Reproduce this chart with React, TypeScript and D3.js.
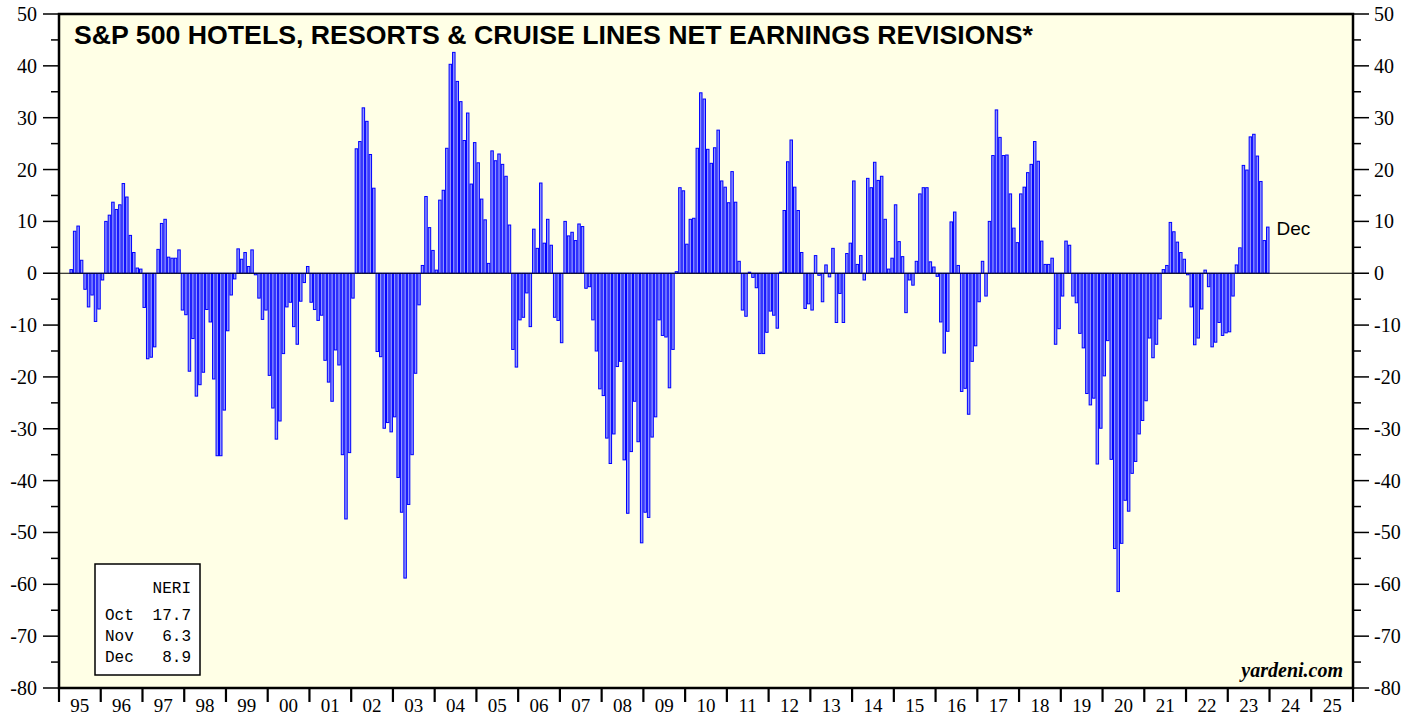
import React, { useEffect, useRef } from 'react'
import * as d3 from 'd3'

// NERI, monthly Jan..Dec (null = no data yet)
const y1995 = [null, null, null, 0.7, 8.1, 9.1, 2.5, -3.1, -6.5, -4.2, -9.3, -6.9]
const y1996 = [-1.3, 10.0, 11.2, 13.7, 12.3, 13.2, 17.3, 14.7, 7.3, 4.0, 1.0, 0.8]
const y1997 = [-6.6, -16.5, -16.2, -14.2, 4.6, 9.6, 10.4, 3.1, 2.9, 2.9, 4.5, -7.1]
const y1998 = [-8.0, -18.9, -12.6, -23.7, -21.5, -19.1, -7.0, -9.4, -20.4, -35.2, -35.2, -26.4]
const y1999 = [-11.1, -4.2, -1.1, 4.7, 2.7, 4.0, 1.3, 4.5, -0.3, -4.8, -8.9, -7.1]
const y2000 = [-19.7, -26.0, -32.0, -28.5, -15.5, -6.5, -5.6, -10.3, -13.7, -5.4, -1.8, 1.3]
const y2001 = [-5.6, -7.0, -9.1, -8.1, -16.8, -21.0, -24.7, -14.8, -17.7, -35.0, -47.4, -34.6]
const y2002 = [-4.8, 24.0, 25.4, 31.9, 29.3, 22.9, 16.4, -15.1, -16.1, -29.9, -28.8, -30.6]
const y2003 = [-27.7, -39.4, -46.1, -58.8, -44.6, -35.0, -19.3, -6.1, 1.5, 14.8, 8.8, 4.4]
const y2004 = [0.6, 14.1, 16.0, 24.1, 40.3, 42.6, 37.0, 33.1, 25.6, 30.9, 17.2, 25.2]
const y2005 = [21.3, 14.3, 10.3, 1.9, 23.6, 21.7, 23.0, 21.0, 18.7, 9.3, -14.7, -18.1]
const y2006 = [-9.0, -8.5, -3.8, -10.3, 8.5, 4.8, 17.4, 5.8, 10.4, 5.4, -8.5, -9.1]
const y2007 = [-13.4, 10.0, 7.2, 7.9, 6.3, 9.5, 9.0, -2.9, -2.6, -9.0, -15.0, -22.3]
const y2008 = [-23.6, -31.8, -36.7, -31.0, -18.0, -17.0, -36.0, -46.3, -34.4, -24.7, -32.5, -52.0]
const y2009 = [-46.1, -47.1, -31.6, -27.7, -9.0, -12.0, -12.3, -22.1, -14.7, 0.3, 16.5, 15.9]
const y2010 = [5.6, 10.4, 10.6, 24.1, 34.8, 33.6, 23.9, 21.2, 24.2, 27.6, 17.8, 16.6]
const y2011 = [13.6, 19.6, 13.7, 2.3, -7.1, -8.3, 0.2, -0.8, -2.8, -15.5, -15.5, -11.4]
const y2012 = [-7.3, -8.1, -10.6, 0.2, 12.1, 21.5, 25.7, 16.6, 12.1, 4.0, -6.8, -5.9]
const y2013 = [-7.1, 3.4, -0.4, -5.5, 1.6, -0.7, 4.8, -9.5, -3.9, -9.5, 3.8, 5.8]
const y2014 = [17.8, 1.7, 3.4, -1.3, 18.3, 16.5, 21.4, 17.9, 18.7, 10.4, 0.8, 2.9]
const y2015 = [13.2, 6.1, 3.2, -7.6, -1.3, -2.3, 2.3, 15.3, 16.5, 16.5, 2.2, 1.2]
const y2016 = [-0.6, -9.4, -15.4, -11.2, 9.9, 11.8, 1.5, -22.8, -22.2, -27.2, -17.0, -14.0]
const y2017 = [-5.5, 2.3, -4.4, 10.0, 22.7, 31.5, 26.2, 22.7, 22.8, 15.3, 8.7, 5.9]
const y2018 = [15.3, 16.6, 19.4, 21.0, 25.4, 21.6, 6.2, 1.7, 1.7, 2.9, -13.7, -10.7]
const y2019 = [-4.4, 6.2, 5.4, -4.4, -5.7, -11.6, -14.4, -23.2, -25.4, -24.1, -36.8, -29.9]
const y2020 = [-19.8, -13.0, -35.9, -53.1, -61.4, -52.1, -43.8, -45.9, -38.6, -36.3, -31.0, -28.4]
const y2021 = [-24.6, -12.5, -16.3, -13.7, -8.8, 0.7, 1.5, 9.8, 8.0, 6.0, 4.0, 2.7]
const y2022 = [-0.3, -6.5, -13.8, -12.5, -6.9, 0.6, -2.6, -14.2, -13.3, -9.5, -12.0, -11.5]
const y2023 = [-11.3, -4.4, 1.6, 4.9, 20.8, 19.9, 26.3, 26.8, 22.6, 17.7, 6.3, 8.9]

const years = [y1995, y1996, y1997, y1998, y1999, y2000, y2001, y2002, y2003, y2004,
  y2005, y2006, y2007, y2008, y2009, y2010, y2011, y2012, y2013, y2014,
  y2015, y2016, y2017, y2018, y2019, y2020, y2021, y2022, y2023]

const yearLabels = ['95', '96', '97', '98', '99', '00', '01', '02', '03', '04', '05', '06',
  '07', '08', '09', '10', '11', '12', '13', '14', '15', '16', '17', '18', '19', '20',
  '21', '22', '23', '24', '25']

const legendMonths = ['Oct', 'Nov', 'Dec']
const legendValues = ['17.7', '6.3', '8.9']

const W = 1421
const H = 717
const serif = '"Liberation Serif", "Times New Roman", serif'
const sans = '"Liberation Sans", Arial, sans-serif'
const mono = '"Liberation Mono", "Courier New", monospace'

function App() {
  const ref = useRef<SVGSVGElement>(null)

  useEffect(() => {
    const svg = d3.select(ref.current)
    svg.selectAll('*').remove()

    const left = 59
    const right = 1353
    const top = 14
    const bottom = 688

    const data = years
      .flatMap((arr, yi) => arr.map((v, m) => ({ i: yi * 12 + m, v })))
      .filter(d => d.v !== null) as { i: number, v: number }[]

    const x = d3.scaleLinear().domain([0, yearLabels.length * 12]).range([left, right])
    const y = d3.scaleLinear().domain([-80, 50]).range([bottom, top])
    const step = x(1) - x(0)

    svg.append('rect')
      .attr('width', W).attr('height', H).attr('fill', '#ffffff')

    svg.append('rect')
      .attr('x', left).attr('y', top)
      .attr('width', right - left).attr('height', bottom - top)
      .attr('fill', '#ffffe6')

    // bars
    svg.append('g')
      .selectAll('rect')
      .data(data)
      .enter()
      .append('rect')
      .attr('x', d => x(d.i) + 0.5)
      .attr('width', step - 1)
      .attr('y', d => y(Math.max(0, d.v)))
      .attr('height', d => Math.abs(y(d.v) - y(0)))
      .attr('fill', '#8f94ff')
      .attr('stroke', '#0000ff')
      .attr('stroke-width', 1)

    // zero line
    svg.append('line')
      .attr('x1', left).attr('x2', right)
      .attr('y1', y(0)).attr('y2', y(0))
      .attr('stroke', '#000').attr('stroke-width', 1.2)

    // y axes, both sides
    const majors = d3.range(-80, 51, 10)
    const minors = d3.range(-75, 50, 10)
    const axisG = svg.append('g').attr('stroke', '#000')
    majors.forEach(v => {
      axisG.append('line').attr('x1', left - 16).attr('x2', left).attr('y1', y(v)).attr('y2', y(v)).attr('stroke-width', 1.5)
      axisG.append('line').attr('x1', right).attr('x2', right + 16).attr('y1', y(v)).attr('y2', y(v)).attr('stroke-width', 1.5)
    })
    minors.forEach(v => {
      axisG.append('line').attr('x1', left - 8).attr('x2', left).attr('y1', y(v)).attr('y2', y(v)).attr('stroke-width', 1.5)
      axisG.append('line').attr('x1', right).attr('x2', right + 8).attr('y1', y(v)).attr('y2', y(v)).attr('stroke-width', 1.5)
    })
    svg.append('g')
      .selectAll('text')
      .data(majors)
      .enter()
      .append('text')
      .attr('x', 37)
      .attr('y', d => y(d) + 7)
      .attr('text-anchor', 'end')
      .style('font-family', serif)
      .style('font-size', '20px')
      .text(d => `${d}`)
    svg.append('g')
      .selectAll('text')
      .data(majors)
      .enter()
      .append('text')
      .attr('x', right + 21)
      .attr('y', d => y(d) + 7)
      .style('font-family', serif)
      .style('font-size', '20px')
      .text(d => `${d}`)

    // x axis: year ticks and labels
    const yearIdx = d3.range(0, yearLabels.length + 1)
    svg.append('g')
      .selectAll('line')
      .data(yearIdx)
      .enter()
      .append('line')
      .attr('x1', d => x(d * 12)).attr('x2', d => x(d * 12))
      .attr('y1', bottom).attr('y2', bottom + 14)
      .attr('stroke', '#000').attr('stroke-width', 2.2)
    svg.append('g')
      .selectAll('text')
      .data(yearLabels)
      .enter()
      .append('text')
      .attr('x', (d, k) => x(k * 12 + 6))
      .attr('y', 712)
      .attr('text-anchor', 'middle')
      .style('font-family', serif)
      .style('font-size', '19px')
      .text(d => d)

    // frame
    svg.append('rect')
      .attr('x', left).attr('y', top)
      .attr('width', right - left).attr('height', bottom - top)
      .attr('fill', 'none').attr('stroke', '#000').attr('stroke-width', 2.5)

    // title
    svg.append('text')
      .attr('x', 74).attr('y', 44)
      .style('font-family', sans)
      .style('font-weight', 'bold')
      .style('font-size', '26.7px')
      .text('S&P 500 HOTELS, RESORTS & CRUISE LINES NET EARNINGS REVISIONS*')

    // last bar label
    const last = data[data.length - 1]
    svg.append('text')
      .attr('x', x(last.i + 1) + 7)
      .attr('y', y(last.v) + 8)
      .style('font-family', sans)
      .style('font-size', '19px')
      .text(legendMonths[legendMonths.length - 1])

    // legend box
    const lg = svg.append('g')
    lg.append('rect')
      .attr('x', 95).attr('y', 564).attr('width', 105).attr('height', 111)
      .attr('fill', '#fff').attr('stroke', '#000').attr('stroke-width', 1.5)
    lg.append('text')
      .attr('x', 191).attr('y', 593).attr('text-anchor', 'end')
      .style('font-family', mono).style('font-size', '16px')
      .text('NERI')
    legendMonths.forEach((m, k) => {
      lg.append('text')
        .attr('x', 105).attr('y', 620 + k * 21)
        .style('font-family', mono).style('font-size', '16px')
        .text(m)
      lg.append('text')
        .attr('x', 191).attr('y', 620 + k * 21).attr('text-anchor', 'end')
        .style('font-family', mono).style('font-size', '16px')
        .text(legendValues[k])
    })

    svg.append('text')
      .attr('x', 1343).attr('y', 677).attr('text-anchor', 'end')
      .style('font-family', serif)
      .style('font-weight', 'bold')
      .style('font-style', 'italic')
      .style('font-size', '20px')
      .text('yardeni.com')
  }, [])

  return (
    <div style={{ position: 'absolute', left: 0, top: 0 }}>
      <svg ref={ref} width={W} height={H} style={{ display: 'block' }} />
    </div>
  )
}

export default App
